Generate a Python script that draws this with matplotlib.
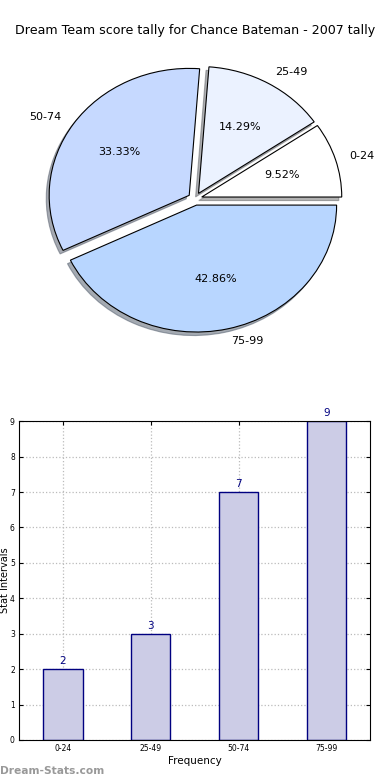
import matplotlib
matplotlib.use("Agg")
import matplotlib.pyplot as plt
import numpy as np

categories = ["0-24", "25-49", "50-74", "75-99"]
counts = [2, 3, 7, 9]
pie_colors = ["#ffffff", "#ebf2ff", "#c6d9ff", "#b8d6ff"]
title = "Dream Team score tally for Chance Bateman - 2007 tally"

fig = plt.figure(figsize=(3.9, 7.8), dpi=100)

# Pie
axp = fig.add_axes([0.105, 0.566, 0.79, 0.358])
wedges, texts, autotexts = axp.pie(
    counts, labels=categories, colors=pie_colors, explode=[0.05] * 4,
    autopct="%1.2f%%", shadow={"ox": -0.015, "oy": -0.02, "shade": 0.6},
    startangle=0,
    wedgeprops=dict(edgecolor="black", linewidth=0.8),
    textprops=dict(fontsize=8))
axp.set_aspect("auto")
axp.set_xlim(-1.1, 1.1)
axp.set_ylim(-1.1, 1.1)
fig.text(0.5, 0.961, title, ha="center", va="center", fontsize=9.1)

# Bars
axb = fig.add_axes([0.0487, 0.0513, 0.9513 - 0.0487 - 0.002, 0.4087])
x = np.arange(len(categories)) + 0.5
axb.bar(x, counts, width=0.45, color="#cccce6", edgecolor="#000080",
        linewidth=1.0, zorder=2)
for xi, c in zip(x, counts):
    axb.text(xi, c + 0.08, str(c), ha="center", va="bottom", fontsize=7.5,
             color="#000080")
axb.set_xlim(0, 4)
axb.set_ylim(0, 9)
axb.set_xticks(x)
axb.set_xticklabels(categories)
axb.set_yticks(range(10))
axb.tick_params(direction="in", top=True, right=True, labelsize=5.5,
                length=3, pad=3)
axb.grid(True, linestyle=":", color="#bbbbbb", linewidth=0.9, zorder=0)
axb.set_axisbelow(True)
axb.set_xlabel("Frequency", fontsize=7.5, labelpad=2)
axb.set_ylabel("Stat Intervals", fontsize=7.0, labelpad=1)
axb.yaxis.set_label_coords(-0.027, 0.5)

fig.text(0.0, 0.011, "Dream-Stats.com", fontsize=7.7, fontweight="bold",
         color="#999999", ha="left", va="center")

fig.savefig("out.png", dpi=100)
